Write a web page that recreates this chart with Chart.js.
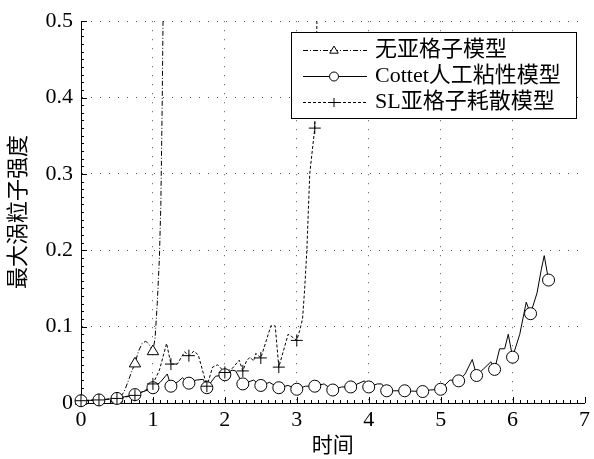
<!DOCTYPE html>
<html>
<head>
<meta charset="utf-8">
<script src="https://cdn.jsdelivr.net/npm/chart.js@4.4.1/dist/chart.umd.min.js"></script>
<style>
    body { margin: 0; background: #fff; }
    #wrap { width: 594px; height: 459px; }
</style>
</head>
<body>
<div id="wrap"><canvas id="vortexChart"></canvas></div>
<script>
// 无亚格子模型
const tNoSgs = [0, 0.25, 0.5, 0.55, 0.6, 0.65, 0.7, 0.75, 0.8, 0.85, 0.9, 0.95, 1.0, 1.03, 1.06, 1.09, 1.11, 1.13, 1.15];
const vNoSgs = [0.003, 0.004, 0.006, 0.008, 0.015, 0.027, 0.04, 0.052, 0.068, 0.078, 0.081, 0.076, 0.068, 0.085, 0.13, 0.19, 0.26, 0.4, 0.6];

// Cottet人工粘性模型
const tCottet = [0, 0.25, 0.5, 0.75, 0.9, 1.0, 1.1, 1.2, 1.25, 1.35, 1.41, 1.5, 1.6, 1.7, 1.75, 1.87, 2.0, 2.1, 2.15, 2.25,
    2.4, 2.5, 2.62, 2.75, 2.88, 3.0, 3.12, 3.25, 3.38, 3.5, 3.62, 3.75, 3.94, 4.0, 4.12, 4.18, 4.25, 4.5, 4.75, 4.85,
    5.0, 5.13, 5.25, 5.34, 5.44, 5.5, 5.6, 5.7, 5.75, 5.82, 5.89, 5.94, 6.0, 6.1, 6.19, 6.25, 6.34, 6.4, 6.44, 6.5];
const vCottet = [0.003, 0.004, 0.006, 0.011, 0.016, 0.02, 0.027, 0.038, 0.022, 0.028, 0.033, 0.026, 0.03, 0.031, 0.02, 0.035, 0.037, 0.043, 0.042, 0.025,
    0.03, 0.023, 0.027, 0.02, 0.023, 0.018, 0.022, 0.022, 0.025, 0.017, 0.021, 0.021, 0.029, 0.021, 0.025, 0.025, 0.016, 0.016, 0.015, 0.017,
    0.018, 0.03, 0.029, 0.038, 0.057, 0.036, 0.045, 0.054, 0.044, 0.071, 0.071, 0.09, 0.06, 0.09, 0.132, 0.117, 0.144, 0.175, 0.193, 0.161];

// SL亚格子耗散模型
const tSL = [0, 0.25, 0.5, 0.75, 0.9, 1.0, 1.09, 1.19, 1.25, 1.34, 1.44, 1.5, 1.57, 1.63, 1.75, 1.83, 1.9, 2.0, 2.1, 2.2,
    2.25, 2.3, 2.35, 2.4, 2.43, 2.5, 2.64, 2.7, 2.75, 2.88, 2.93, 3.0, 3.04, 3.08, 3.11, 3.14, 3.18, 3.25, 3.28, 3.3];
const vSL = [0.003, 0.004, 0.006, 0.01, 0.017, 0.025, 0.043, 0.078, 0.051, 0.051, 0.067, 0.062, 0.068, 0.063, 0.022, 0.047, 0.05, 0.04, 0.045, 0.056,
    0.042, 0.055, 0.06, 0.055, 0.065, 0.059, 0.101, 0.101, 0.047, 0.09, 0.087, 0.082, 0.095, 0.11, 0.15, 0.2, 0.3, 0.36, 0.5, 0.6];

const xTicks = [0, 1, 2, 3, 4, 5, 6, 7];
const yTicks = [0, 0.1, 0.2, 0.3, 0.4, 0.5];

const FONT = "'Liberation Serif', 'Times New Roman', 'Noto Sans CJK SC', serif";

function zip(ts, vs) {
    return ts.map((t, i) => ({x: t, y: vs[i]}));
}

// markers only every 0.25 time units
function isMarker(t) {
    return Math.abs(t * 4 - Math.round(t * 4)) < 1e-6;
}

function drawMarker(ctx, style, x, y, r) {
    ctx.save();
    ctx.strokeStyle = '#000';
    ctx.lineWidth = 1;
    ctx.setLineDash([]);
    ctx.beginPath();
    if (style === 'triangle') {
        ctx.moveTo(x, y - r);
        ctx.lineTo(x + r * 0.95, y + r * 0.6);
        ctx.lineTo(x - r * 0.95, y + r * 0.6);
        ctx.closePath();
        ctx.fillStyle = '#fff';
        ctx.fill();
    } else if (style === 'circle') {
        ctx.arc(x, y, r, 0, Math.PI * 2);
        ctx.fillStyle = '#fff';
        ctx.fill();
    } else {
        ctx.moveTo(x - r, y);
        ctx.lineTo(x + r, y);
        ctx.moveTo(x, y - r);
        ctx.lineTo(x, y + r);
    }
    ctx.stroke();
    ctx.restore();
}

// inward major + minor ticks like the original figure
const tickPlugin = {
    id: 'inwardTicks',
    afterDatasetsDraw(chart) {
        const ctx = chart.ctx;
        const xs = chart.scales.x, ys = chart.scales.y;
        const a = chart.chartArea;
        ctx.save();
        ctx.strokeStyle = '#000';
        ctx.lineWidth = 1;
        ctx.beginPath();
        for (let i = 0; i <= 70; i++) {
            const px = Math.round(xs.getPixelForValue(i / 10)) + 0.5;
            const len = i % 10 === 0 ? 6 : 3;
            ctx.moveTo(px, a.bottom);
            ctx.lineTo(px, a.bottom - len);
        }
        for (let i = 0; i <= 50; i++) {
            const py = Math.round(ys.getPixelForValue(i / 100)) + 0.5;
            const len = i % 10 === 0 ? 6 : 3;
            ctx.moveTo(a.left, py);
            ctx.lineTo(a.left + len, py);
        }
        ctx.stroke();
        ctx.restore();
    }
};

// legend box inside the plot, top right
const legendPlugin = {
    id: 'boxLegend',
    afterDatasetsDraw(chart) {
        const ctx = chart.ctx;
        const box = {x: 291.5, y: 32.5, w: 285, h: 86};
        ctx.save();
        ctx.fillStyle = '#fff';
        ctx.fillRect(box.x, box.y, box.w, box.h);
        ctx.strokeStyle = '#000';
        ctx.lineWidth = 1;
        ctx.strokeRect(box.x, box.y, box.w, box.h);
        ctx.font = '22px ' + FONT;
        ctx.textBaseline = 'middle';
        ctx.fillStyle = '#000';
        chart.data.datasets.forEach((ds, i) => {
            const y = box.y + 17 + i * 26;
            ctx.save();
            ctx.strokeStyle = '#000';
            ctx.lineWidth = 1;
            ctx.setLineDash(ds.borderDash || []);
            ctx.beginPath();
            ctx.moveTo(303, Math.round(y) + 0.5);
            ctx.lineTo(367, Math.round(y) + 0.5);
            ctx.stroke();
            ctx.restore();
            drawMarker(ctx, ds.markerStyle, 334, Math.round(y) + 0.5, 4.5);
            ctx.fillText(ds.label, 375, y + 1);
        });
        ctx.restore();
    }
};

// markers drawn on top of the lines
const markerPlugin = {
    id: 'markers',
    afterDatasetsDraw(chart) {
        const ctx = chart.ctx;
        chart.data.datasets.forEach((ds, i) => {
            const meta = chart.getDatasetMeta(i);
            meta.data.forEach((pt, j) => {
                const raw = ds.data[j];
                if (!isMarker(raw.x) || raw.y > 0.5) return;
                drawMarker(ctx, ds.markerStyle, pt.x, pt.y, 6);
            });
        });
    }
};

const ctx = document.getElementById('vortexChart').getContext('2d');
const chart = new Chart(ctx, {
    type: 'line',
    data: {
        datasets: [{
            label: '无亚格子模型',
            data: zip(tNoSgs, vNoSgs),
            borderColor: '#000',
            borderWidth: 1,
            borderDash: [5, 2, 1, 2],
            markerStyle: 'triangle',
            pointRadius: 0,
            fill: false,
            tension: 0
        }, {
            label: 'Cottet人工粘性模型',
            data: zip(tCottet, vCottet),
            borderColor: '#000',
            borderWidth: 1,
            markerStyle: 'circle',
            pointRadius: 0,
            fill: false,
            tension: 0
        }, {
            label: 'SL亚格子耗散模型',
            data: zip(tSL, vSL),
            borderColor: '#000',
            borderWidth: 1,
            borderDash: [3, 2],
            markerStyle: 'plus',
            pointRadius: 0,
            fill: false,
            tension: 0
        }]
    },
    options: {
        responsive: true,
        maintainAspectRatio: false,
        animation: false,
        layout: {
            padding: {left: 0, top: 19, right: 5, bottom: 0}
        },
        plugins: {
            legend: {display: false},
            tooltip: {enabled: false}
        },
        scales: {
            x: {
                type: 'linear',
                min: 0,
                max: 7,
                afterBuildTicks: (scale) => { scale.ticks = xTicks.map(v => ({value: v})); },
                afterFit: (scale) => { scale.height = 56; },
                grid: {
                    color: (c) => (c.tick && (c.tick.value === 0 || c.tick.value === 7)) ? 'rgba(0,0,0,0)' : '#555',
                    lineWidth: 1,
                    drawTicks: false
                },
                border: {display: true, color: '#000', width: 1, dash: [1, 8]},
                ticks: {
                    color: '#000',
                    padding: 4,
                    maxRotation: 0,
                    font: {family: FONT, size: 22}
                },
                title: {
                    display: true,
                    text: '时间',
                    color: '#000',
                    padding: {top: 0, bottom: 0},
                    font: {family: FONT, size: 21}
                }
            },
            y: {
                type: 'linear',
                min: 0,
                max: 0.5,
                afterBuildTicks: (scale) => { scale.ticks = yTicks.map(v => ({value: v})); },
                afterFit: (scale) => { scale.width = 81; },
                grid: {
                    color: (c) => (c.tick && c.tick.value === 0) ? 'rgba(0,0,0,0)' : '#555',
                    lineWidth: 1,
                    drawTicks: false
                },
                border: {display: true, color: '#000', width: 1, dash: [1, 8]},
                ticks: {
                    color: '#000',
                    padding: 8,
                    font: {family: FONT, size: 22},
                    callback: (v) => v === 0 ? '0' : v.toFixed(1)
                },
                title: {
                    display: true,
                    text: '最大涡粒子强度',
                    color: '#000',
                    padding: {top: 6, bottom: 2},
                    font: {family: FONT, size: 22}
                }
            }
        }
    },
    plugins: [tickPlugin, markerPlugin, legendPlugin]
});
</script>
</body>
</html>
